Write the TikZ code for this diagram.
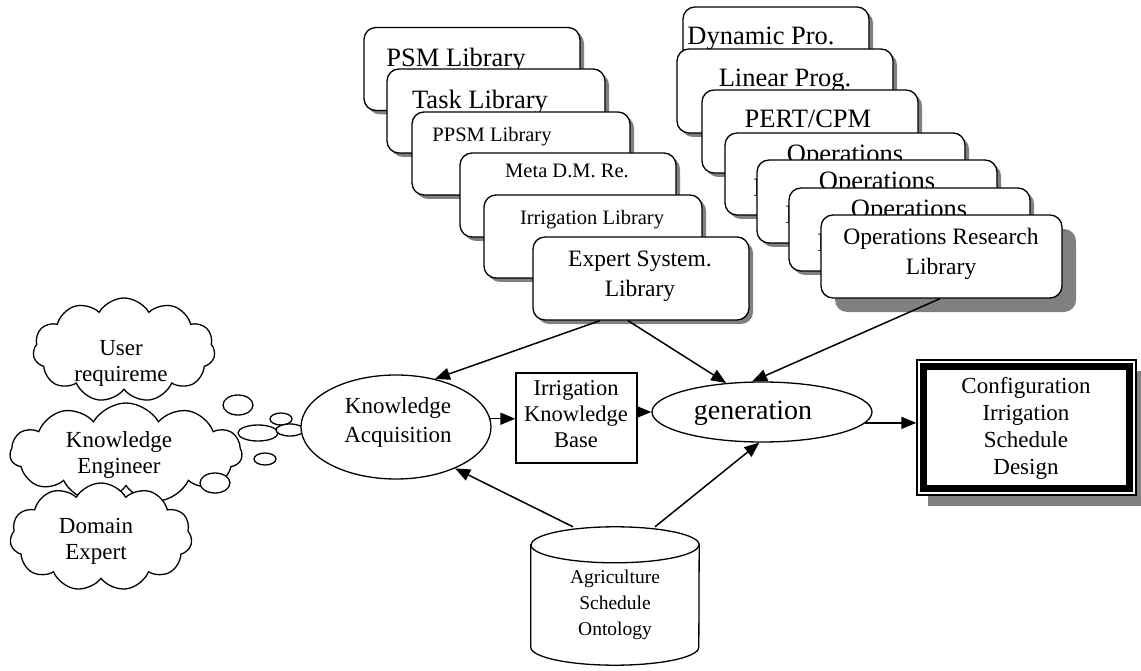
\documentclass[tikz,border=0pt]{standalone}
\usepackage{fontspec}
\setmainfont{Liberation Serif}
\usetikzlibrary{shapes.geometric,shapes.symbols,shadows,arrows.meta,calc}
\begin{document}
\begin{tikzpicture}[x=1pt,y=1pt,
  rbox/.style={draw, fill=white, rounded corners=12pt, line width=1.3pt, minimum width=#1, minimum height=83pt, inner sep=0pt},
  sh/.style={drop shadow={shadow xshift=4pt, shadow yshift=-4pt, fill=black!50, opacity=1}},
  shbig/.style={drop shadow={shadow xshift=14pt, shadow yshift=-14pt, fill=black!50, opacity=1}},
  shcfg/.style={drop shadow={shadow xshift=11pt, shadow yshift=-11pt, fill=black!50, opacity=1}},
  lbl/.style={anchor=base, align=center, inner sep=0pt},
  big/.style={font=\fontsize{26.5}{34}\selectfont},
  small/.style={font=\fontsize{20.5}{26}\selectfont},
  mid/.style={font=\fontsize{23.5}{30}\selectfont},
  cl/.style={font=\fontsize{23}{26}\selectfont},
  cloudst/.style={cloud, draw, fill=white, line width=1.3pt, cloud puffs=11, cloud puff arc=120, cloud ignores aspect, inner sep=0pt},
  bub/.style={ellipse, draw, fill=white, line width=1.3pt, inner sep=0pt},
  arr/.style={-{Triangle[length=15pt,width=12pt]}, line width=1.5pt}
]
\useasboundingbox (0,0) rectangle (1141,-671);
\fill[white] (0,0) rectangle (1141,-671);

% left stack
\node[rbox=216pt, sh] (psm) at (472,-69) {};
\node[lbl, big] (psmt) at (456,-67) {PSM Library};
\node[rbox=218pt, minimum height=84pt, sh] (task) at (496,-111) {};
\node[lbl, big] (taskt) at (480,-109) {Task Library};
\node[rbox=218pt, sh] (ppsm) at (521,-153.5) {};
\node[lbl, small] (ppsmt) at (492,-142) {PPSM Library};
\node[rbox=216pt, minimum height=84pt, sh] (meta) at (568,-195) {};
\node[lbl, small] (metat) at (567,-178) {Meta D.M. Re.};
\node[rbox=218pt, sh] (irr) at (593,-236.5) {};
\node[lbl, small] (irrt) at (592,-225) {Irrigation Library};
\node[rbox=216pt, sh] (exp) at (641,-278.5) {};
\node[lbl, mid] (expt) at (640,-297) {Expert System.\\Library};

% right stack
\node[rbox=186pt, sh] (dyn) at (776,-48.5) {};
\node[lbl, big] (dynt) at (761,-45) {Dynamic Pro.};
\node[rbox=216pt, minimum height=84pt, sh] (lin) at (785,-91) {};
\node[lbl, big] (lint) at (785,-87) {Linear Prog.};
\node[rbox=216pt, sh] (pert) at (810,-131.5) {};
\node[lbl, big] (pertt) at (808,-128) {PERT/CPM};
\node[rbox=240pt, minimum height=82pt, sh] (ops1) at (845,-174) {};
\node[lbl, big] (ops1t) at (845,-197) {Operations\\Research Library};
\node[rbox=240pt, sh] (ops2) at (877,-201.5) {};
\node[lbl, big] (ops2t) at (877,-224) {Operations\\Research Library};
\node[rbox=241pt, sh] (ops3) at (909.5,-229.5) {};
\node[lbl, big] (ops3t) at (909,-252) {Operations\\Research Library};
\node[rbox=241pt, shbig] (ops4) at (941.5,-256.5) {};
\node[lbl, mid] (ops4t) at (941,-275) {Operations Research\\Library};

% clouds
\node[cloudst, minimum width=182pt, minimum height=104pt] (user) at (124,-350) {};
\node[lbl, cl] (usert) at (121,-381) {User\\requireme};
\node[cloudst, minimum width=232pt, minimum height=100pt] (ke) at (126,-453) {};
\node[lbl, cl] (ket) at (119,-473) {Knowledge\\Engineer};
\node[cloudst, minimum width=182pt, minimum height=108pt] (dom) at (101,-537) {};
\node[lbl, cl] (domt) at (96,-559) {Domain\\Expert};

% bubbles
\node[bub, minimum width=30pt, minimum height=20pt] (b1) at (238,-405) {};
\node[bub, minimum width=40pt, minimum height=16pt] (b2) at (258,-433) {};
\node[bub, minimum width=22pt, minimum height=12pt] (b3) at (265,-459) {};
\node[bub, minimum width=22pt, minimum height=12pt] (b4) at (281,-419) {};
\node[bub, minimum width=28pt, minimum height=12pt] (b5) at (290,-430) {};
\node[bub, minimum width=30pt, minimum height=20pt] (b6) at (215,-483) {};

% knowledge acquisition
\node[ellipse, draw, fill=white, line width=1.3pt, minimum width=190pt, minimum height=104pt, inner sep=0pt] (ka) at (396,-427) {};
\node[lbl, font=\fontsize{23}{29}\selectfont] (kat) at (398,-442) {Knowledge\\Acquisition};

% irrigation knowledge base
\node[draw, line width=1.3pt, minimum width=121pt, minimum height=90pt, inner sep=0pt] (ikb) at (576.5,-418) {};
\node[lbl, font=\fontsize{22.5}{26}\selectfont] (ikbt) at (576,-447) {Irrigation\\Knowledge\\Base};

% generation
\node[ellipse, draw, fill=white, line width=1.3pt, minimum width=220pt, minimum height=60pt, inner sep=0pt] (gen) at (762,-412) {};
\node[lbl, font=\fontsize{28}{32}\selectfont] (gent) at (753,-419) {generation};

% configuration
\node[draw, fill=white, line width=1.3pt, minimum width=219pt, minimum height=135pt, inner sep=0pt, shcfg] (cfg) at (1026.5,-427.5) {};
\draw[line width=7pt] ([shift={(7pt,-7pt)}]cfg.north west) rectangle ([shift={(-7pt,7pt)}]cfg.south east);
\node[lbl, font=\fontsize{23}{27}\selectfont] (cfgt) at (1026,-474) {Configuration\\Irrigation\\Schedule\\Design};

% ontology cylinder
\node[minimum width=168pt, minimum height=138pt, inner sep=0pt] (onto) at (615,-596) {};
\draw[line width=1.3pt, fill=white] ([yshift=-18pt]onto.north west) -- ([yshift=18pt]onto.south west)
  arc[start angle=180, end angle=360, x radius=84pt, y radius=18pt]
  -- ([yshift=-18pt]onto.north east)
  arc[start angle=0, end angle=180, x radius=84pt, y radius=18pt] -- cycle;
\draw[line width=1.3pt] ([yshift=-18pt]onto.north west) arc[start angle=180, end angle=360, x radius=84pt, y radius=18pt];
\node[lbl, font=\fontsize{19.5}{26}\selectfont] (ontot) at (615,-635) {Agriculture\\Schedule\\Ontology};

% connectors
\draw[arr] ([xshift=-41pt]exp.south) -- (ka.51);
\draw[arr] ([xshift=-13pt]exp.south) -- (gen.141);
\draw[arr] ([xshift=-1.5pt]ops4.south) -- (gen.108);
\draw[arr] (ka.5) -- (ka.5 -| ikb.west);
\draw[arr] (ikb.east |- gen.west) -- (gen.west);
\draw[arr] (gen.-6) -- (gen.-6 -| cfg.west);
\draw[arr] ([xshift=-42pt]onto.north) -- (ka.-35);
\draw[arr] ([xshift=40pt]onto.north) -- (gen.265);
\end{tikzpicture}
\end{document}
